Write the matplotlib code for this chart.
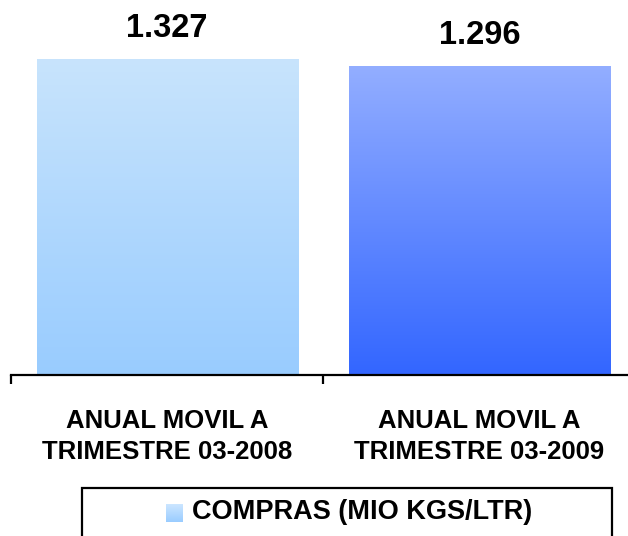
import numpy as np
import matplotlib
matplotlib.use("Agg")
import matplotlib.pyplot as plt
from matplotlib.colors import LinearSegmentedColormap
from matplotlib.patches import Rectangle

plt.rcParams['font.family'] = ['Liberation Sans', 'DejaVu Sans']

# data
categories = ["ANUAL MOVIL A\nTRIMESTRE 03-2008", "ANUAL MOVIL A\nTRIMESTRE 03-2009"]
values = [1.327, 1.296]
value_labels = ["1.327", "1.296"]
series_name = "COMPRAS (MIO KGS/LTR)"

# gradient (top, bottom) for each bar
bar_grads = [("#c8e4fc", "#99ccff"), ("#93aeff", "#3366ff")]

W, H = 628, 536
fig = plt.figure(figsize=(W / 100, H / 100), dpi=100)
ax = fig.add_axes([11 / W, (H - 374.5) / H, 624.6 / W, 374.5 / H])

x = np.arange(len(values))
bars = ax.bar(x, values, width=0.836, color="none", edgecolor="none", zorder=2)

grad = np.linspace(0, 1, 256).reshape(-1, 1)
for b, (top, bot) in zip(bars, bar_grads):
    cmap = LinearSegmentedColormap.from_list("g", [bot, top])
    x0, y0 = b.get_x(), b.get_y()
    im = ax.imshow(grad, cmap=cmap, origin="lower", aspect="auto",
                   extent=[x0, x0 + b.get_width(), y0, y0 + b.get_height()], zorder=1)
    im.set_clip_path(b)

for xi, v, lab in zip(x, values, value_labels):
    ax.annotate(lab, (xi, v), xytext=(0, 11), textcoords="offset points",
                ha="center", va="bottom", fontsize=23.5, fontweight="bold")

ax.set_xlim(-0.5, 1.5)
ax.set_ylim(0, 374.5 / 237.8)
for s in ["top", "right", "left"]:
    ax.spines[s].set_visible(False)
ax.spines["bottom"].set_linewidth(1.6)
ax.set_yticks([])
ax.set_xticks([-0.5, 0.5, 1.5])
ax.set_xticklabels([])
ax.tick_params(axis="x", which="major", length=6.5, width=1.6, direction="out")
ax.set_xticks(x, minor=True)
ax.set_xticklabels(categories, minor=True, fontsize=18.5, fontweight="bold", linespacing=1.38)
ax.tick_params(axis="x", which="minor", length=0, pad=24.5)

# legend box
fig.patches.append(Rectangle((82 / W, -0.05), 530 / W, 0.05 + (H - 488) / H,
                             transform=fig.transFigure, fill=False,
                             edgecolor="black", linewidth=1.6))
lax = fig.add_axes([166 / W, (H - 522) / H, 17 / W, 18 / H])
lax.imshow(grad, cmap=LinearSegmentedColormap.from_list("l", ["#99ccff", "#cce6ff"]),
           origin="lower", aspect="auto")
lax.axis("off")
fig.text(192 / W, (H - 512) / H, series_name, fontsize=19.5, fontweight="bold",
         va="center", ha="left")

fig.savefig("out.png", dpi=100)
